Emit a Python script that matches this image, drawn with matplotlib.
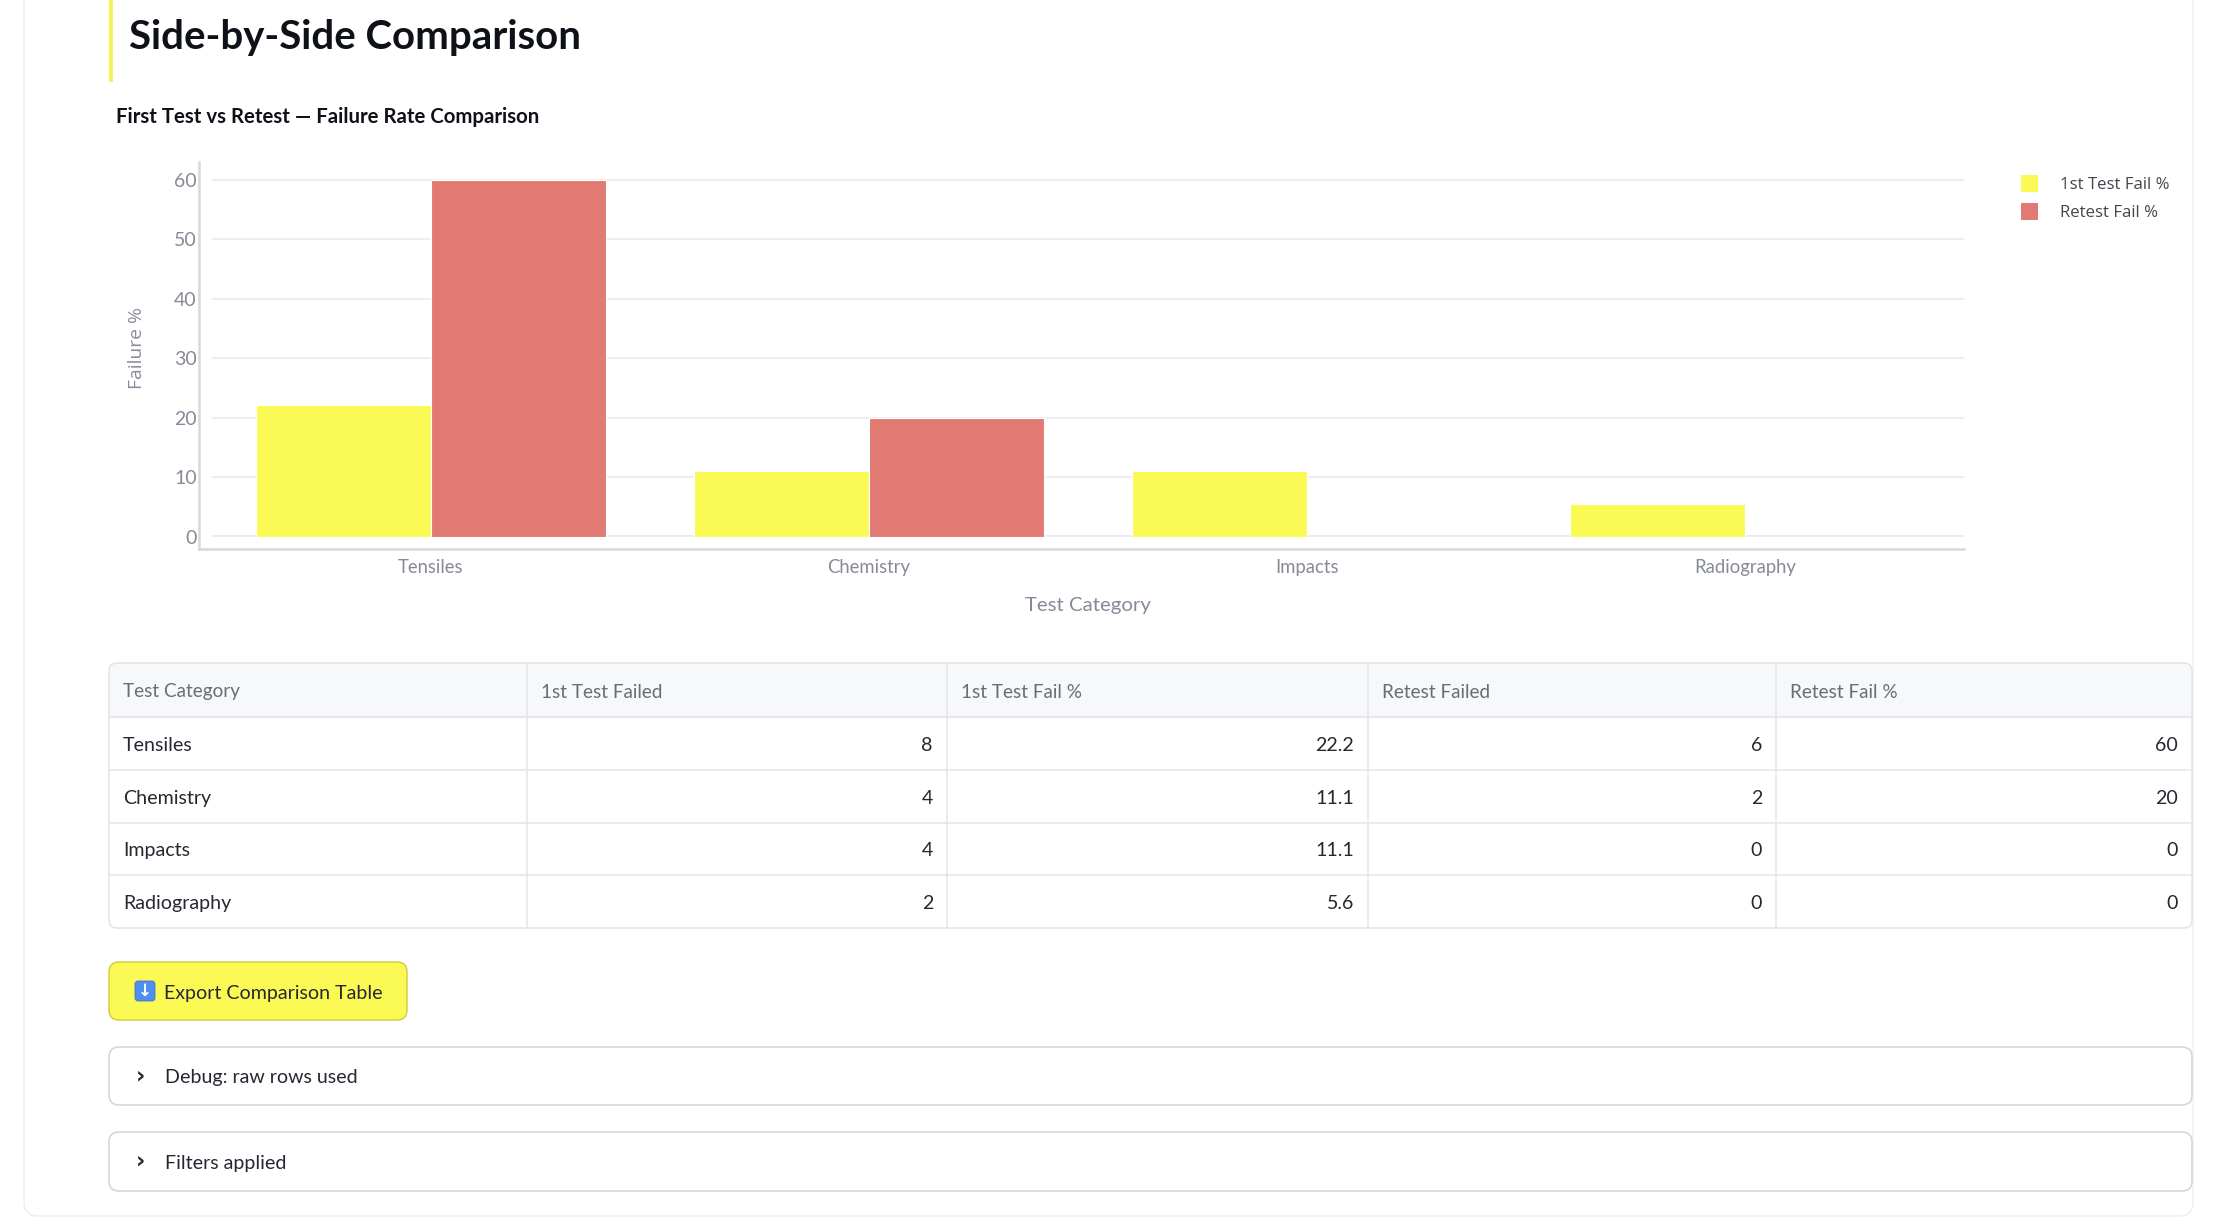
import matplotlib
matplotlib.use("Agg")
import matplotlib.pyplot as plt
from matplotlib.patches import FancyBboxPatch, Rectangle
from matplotlib.lines import Line2D
import numpy as np

# ---------------- data ----------------
categories = ["Tensiles", "Chemistry", "Impacts", "Radiography"]
first_failed = [8, 4, 4, 2]
first_pct = [22.2, 11.1, 11.1, 5.6]
retest_failed = [6, 2, 0, 0]
retest_pct = [60, 20, 0, 0]
series_names = ["1st Test Fail %", "Retest Fail %"]
table_headers = ["Test Category", "1st Test Failed", "1st Test Fail %", "Retest Failed", "Retest Fail %"]
y_ticks = [0, 10, 20, 30, 40, 50, 60]

# ---------------- styling ----------------
YELLOW = "#fbfa55"
RED = "#e07a73"
FONT = "Lato"
TICK_C = "#868a98"
DARK = "#262730"

W, H = 2216, 1232
fig = plt.figure(figsize=(W / 100, H / 100), dpi=100)
fig.patch.set_facecolor("white")
R = fig.canvas.get_renderer()


def fx(x):
    return x / W


def fy(y):
    return 1 - y / H


def fit(s, width, family=FONT, weight="normal"):
    t = fig.text(0, 0, s, fontsize=20, family=family, weight=weight)
    w = t.get_window_extent(R).width
    t.remove()
    return 20 * width / w


def txt(x, y, s, size, family=FONT, **kw):
    kw.setdefault("va", "center")
    return fig.text(fx(x), fy(y), s, fontsize=size, family=family, **kw)


def rbox(x0, y0, x1, y1, fc, ec, lw=1.0, r=8, z=0):
    p = FancyBboxPatch((fx(x0), fy(y1)), fx(x1) - fx(x0), fy(y0) - fy(y1),
                       boxstyle=f"round,pad=0,rounding_size={r / W}",
                       transform=fig.transFigure, fc=fc, ec=ec, lw=lw, zorder=z)
    p.set_mutation_aspect(W / H)
    fig.add_artist(p)
    return p


def hline(x0, x1, y, c, lw=1.0, z=1):
    fig.add_artist(Line2D([fx(x0), fx(x1)], [fy(y), fy(y)], color=c, lw=lw, zorder=z,
                          transform=fig.transFigure))


def vline(x, y0, y1, c, lw=1.0, z=1):
    fig.add_artist(Line2D([fx(x), fx(x)], [fy(y0), fy(y1)], color=c, lw=lw, zorder=z,
                          transform=fig.transFigure))


# ---------------- page card ----------------
rbox(24, -40, 2193, 1216, "white", "#eeeef0", lw=1.0, r=14, z=0)

# accent bar + headings
fig.add_artist(Rectangle((fx(109), fy(82)), fx(4), 82 / H, transform=fig.transFigure,
                         fc="#f5f25a", ec="none", zorder=2))
s_title = fit("Side-by-Side Comparison", 452, weight="bold")
txt(129, 38, "Side-by-Side Comparison", s_title, weight="bold", color="#0e1117")
s_sub = fit("First Test vs Retest \u2014 Failure Rate Comparison", 423, weight="bold")
txt(116, 117, "First Test vs Retest \u2014 Failure Rate Comparison", s_sub, weight="bold", color="#0e1117")

# ---------------- chart ----------------
ax = fig.add_axes([fx(212), fy(537), (1964 - 212) / W, (537 - 161) / H])
ax.set_facecolor("none")
x = np.arange(len(categories))
bw = 0.4
ax.bar(x - bw / 2, first_pct, bw, color=YELLOW, edgecolor="white", linewidth=0.8, zorder=3,
       label=series_names[0])
ax.bar(x + bw / 2, retest_pct, bw, color=RED, edgecolor="white", linewidth=0.8, zorder=3,
       label=series_names[1])
ax.set_xlim(-0.5, len(categories) - 0.5)
ax.set_ylim(0, max(retest_pct + first_pct) * 1.0526)
for s in ax.spines.values():
    s.set_visible(False)
ax.set_yticks(y_ticks)
ax.yaxis.grid(True, color="#eeeef0", lw=1.4, zorder=0)
ax.axhline(0, color="#e3e8f0", lw=2.6, zorder=1)
ax.set_xticks(x)
s_tick = fit("Radiography", 102)
ax.set_xticklabels(categories, fontsize=s_tick, family=FONT, color=TICK_C)
ax.set_yticklabels([str(v) for v in y_ticks], fontsize=s_tick * 1.05, family=FONT, color=TICK_C)
ax.tick_params(axis="both", length=0)
ax.tick_params(axis="y", pad=11)
ax.tick_params(axis="x", pad=16)

# offset axis lines
vline(199, 162, 549, "#d8d8da", lw=1.8, z=2)
hline(199, 1964, 549, "#d8d8da", lw=1.8, z=2)

# axis titles
s_yl = fit("Failure %", 82, family="Open Sans")
txt(137, 348, "Failure %", s_yl, family="Open Sans", color="#8a8e9c", rotation=90, ha="center")
s_xl = fit("Test Category", 126)
txt(1088, 605, "Test Category", s_xl, color=TICK_C, ha="center")

# legend
s_leg = fit(series_names[0], 109, family="Open Sans")
for i, (nm, c) in enumerate(zip(series_names, [YELLOW, RED])):
    yc = 183 + i * 28
    fig.add_artist(Rectangle((fx(2021), fy(yc + 8.5)), 17 / W, 17 / H, transform=fig.transFigure,
                             fc=c, ec="none", zorder=3))
    txt(2060, yc + 2, nm, s_leg, family="Open Sans", color="#44464f")

# ---------------- table ----------------
cols = [109, 527, 947, 1368, 1776, 2192]
rows = [663, 717, 769.75, 822.5, 875.25, 928]
GRID = "#e4e5e9"
hdr = FancyBboxPatch((fx(cols[0]), fy(rows[1])), fx(cols[-1]) - fx(cols[0]), fy(rows[0]) - fy(rows[1]),
                     boxstyle=f"round,pad=0,rounding_size={8 / W}", transform=fig.transFigure,
                     fc="#f7f8fa", ec="none", zorder=1)
hdr.set_mutation_aspect(W / H)
fig.add_artist(hdr)
fig.add_artist(Rectangle((fx(cols[0]), fy(rows[1])), fx(cols[-1]) - fx(cols[0]), 20 / H,
                         transform=fig.transFigure, fc="#f7f8fa", ec="none", zorder=1))
rbox(cols[0], rows[0], cols[-1], rows[-1], "none", GRID, lw=1.2, r=8, z=3)
for yv in rows[1:-1]:
    hline(cols[0], cols[-1], yv, GRID, lw=1.3 if yv == rows[1] else 1.1, z=2)
for xv in cols[1:-1]:
    vline(xv, rows[0], rows[-1], GRID, lw=1.1, z=2)

s_body = fit("Tensiles", 70)
s_head = fit("Test Category", 117)
for j, h in enumerate(table_headers):
    txt(cols[j] + 14, (rows[0] + rows[1]) / 2 + 2, h, s_head, color="#6a6d78")


def fmt(v):
    return f"{v:g}"


for i, cat in enumerate(categories):
    yc = (rows[i + 1] + rows[i + 2]) / 2 + 2
    txt(cols[0] + 14, yc, cat, s_body, color=DARK)
    vals = [first_failed[i], first_pct[i], retest_failed[i], retest_pct[i]]
    for j, v in enumerate(vals):
        txt(cols[j + 2] - 14, yc, fmt(v), s_body, color=DARK, ha="right")

# ---------------- button ----------------
rbox(109, 962, 407, 1020, YELLOW, "#cfcc3a", lw=1.0, r=10, z=2)
rbox(135, 981, 155, 1001, "#4f8ff0", "#3d76d0", lw=0.6, r=3, z=3)
txt(145, 991, "\u2193", s_body * 0.85, family="DejaVu Sans", color="white", ha="center",
    weight="bold", zorder=4)
s_btn = fit("Export Comparison Table", 219)
txt(164, 993, "Export Comparison Table", s_btn, color=DARK, zorder=4)

# ---------------- expanders ----------------
for (y0, y1, label) in [(1047, 1105, "Debug: raw rows used"), (1132, 1191, "Filters applied")]:
    rbox(109, y0, 2192, y1, "white", "#d6d7db", lw=1.2, r=10, z=2)
    yc = (y0 + y1) / 2
    txt(140, yc, "\u203a", s_btn * 1.15, family="DejaVu Sans", color=DARK, ha="center",
        weight="bold", zorder=4)
    txt(165, yc + 2, label, s_btn, color=DARK, zorder=4)

fig.savefig("out.png", dpi=100, facecolor="white")
